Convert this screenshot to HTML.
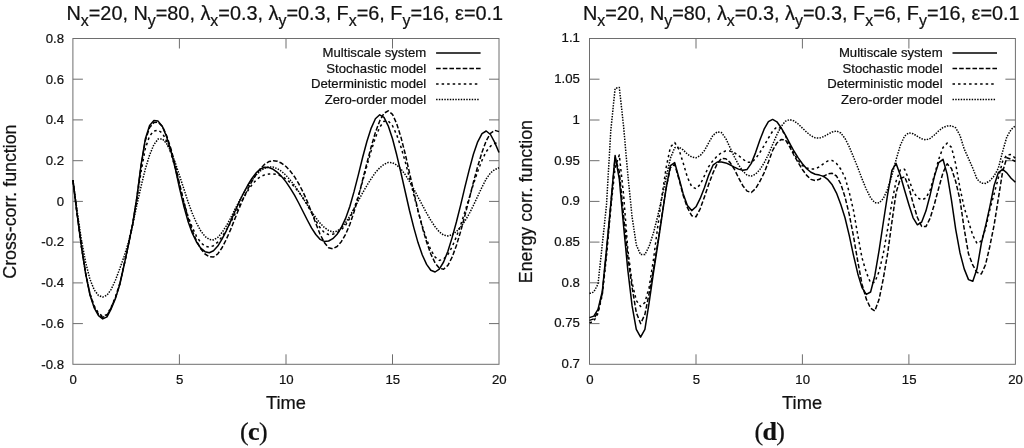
<!DOCTYPE html>
<html><head><meta charset="utf-8"><title>Correlation functions</title>
<style>
html,body{margin:0;padding:0;background:#fff}
svg{display:block}
text{font-family:"Liberation Sans",sans-serif;fill:#111;stroke:#111;stroke-width:0.22px}
.tk text{font-size:13.2px}
.lg text{font-size:13.15px}
.tt{font-size:19.85px}
.sb{font-size:15.9px}
.ax{font-size:18.3px}
.ay{font-size:17.8px}
.cap{font-family:"Liberation Serif","DejaVu Serif",serif;font-size:26px;fill:#111;letter-spacing:-0.6px}
.cap .b{font-weight:bold}
</style></head><body>
<svg width="1024" height="448" viewBox="0 0 1024 448">
<rect width="1024" height="448" fill="#fff"/>
<text class="tt" x="284.8" y="19.75" text-anchor="middle">N<tspan class="sb" dy="5.9">x</tspan><tspan dy="-5.9">=20, N</tspan><tspan class="sb" dy="5.9">y</tspan><tspan dy="-5.9">=80, λ</tspan><tspan class="sb" dy="5.9">x</tspan><tspan dy="-5.9">=0.3, λ</tspan><tspan class="sb" dy="5.9">y</tspan><tspan dy="-5.9">=0.3, F</tspan><tspan class="sb" dy="5.9">x</tspan><tspan dy="-5.9">=6, F</tspan><tspan class="sb" dy="5.9">y</tspan><tspan dy="-5.9">=16, ε=0.1</tspan></text>
<text class="tt" x="801.3" y="19.75" text-anchor="middle">N<tspan class="sb" dy="5.9">x</tspan><tspan dy="-5.9">=20, N</tspan><tspan class="sb" dy="5.9">y</tspan><tspan dy="-5.9">=80, λ</tspan><tspan class="sb" dy="5.9">x</tspan><tspan dy="-5.9">=0.3, λ</tspan><tspan class="sb" dy="5.9">y</tspan><tspan dy="-5.9">=0.3, F</tspan><tspan class="sb" dy="5.9">x</tspan><tspan dy="-5.9">=6, F</tspan><tspan class="sb" dy="5.9">y</tspan><tspan dy="-5.9">=16, ε=0.1</tspan></text>
<g stroke="#6e6e6e" stroke-width="1" fill="none">
<rect x="72.9" y="38.5" width="426.1" height="325.8"/>
<path d="M179.4 364.3v-10.0 M179.4 38.5v10.0"/>
<path d="M286.0 364.3v-10.0 M286.0 38.5v10.0"/>
<path d="M392.5 364.3v-10.0 M392.5 38.5v10.0"/>
<path d="M72.9 323.6h10.0 M499.0 323.6h-10.0"/>
<path d="M72.9 282.9h10.0 M499.0 282.9h-10.0"/>
<path d="M72.9 242.1h10.0 M499.0 242.1h-10.0"/>
<path d="M72.9 201.4h10.0 M499.0 201.4h-10.0"/>
<path d="M72.9 160.7h10.0 M499.0 160.7h-10.0"/>
<path d="M72.9 119.9h10.0 M499.0 119.9h-10.0"/>
<path d="M72.9 79.2h10.0 M499.0 79.2h-10.0"/>
</g>
<g class="tk">
<text x="64.0" y="368.6" text-anchor="end">-0.8</text>
<text x="64.0" y="327.9" text-anchor="end">-0.6</text>
<text x="64.0" y="287.2" text-anchor="end">-0.4</text>
<text x="64.0" y="246.4" text-anchor="end">-0.2</text>
<text x="64.0" y="205.7" text-anchor="end">0</text>
<text x="64.0" y="165.0" text-anchor="end">0.2</text>
<text x="64.0" y="124.2" text-anchor="end">0.4</text>
<text x="64.0" y="83.5" text-anchor="end">0.6</text>
<text x="64.0" y="42.8" text-anchor="end">0.8</text>
<text x="73.2" y="384.2" text-anchor="middle">0</text>
<text x="179.7" y="384.2" text-anchor="middle">5</text>
<text x="286.3" y="384.2" text-anchor="middle">10</text>
<text x="392.8" y="384.2" text-anchor="middle">15</text>
<text x="499.3" y="384.2" text-anchor="middle">20</text>
</g>
<g stroke="#6e6e6e" stroke-width="1" fill="none">
<rect x="589.5" y="38.5" width="425.9" height="325.8"/>
<path d="M696.0 364.3v-10.0 M696.0 38.5v10.0"/>
<path d="M802.4 364.3v-10.0 M802.4 38.5v10.0"/>
<path d="M908.9 364.3v-10.0 M908.9 38.5v10.0"/>
<path d="M589.5 323.6h10.0 M1015.4 323.6h-10.0"/>
<path d="M589.5 282.8h10.0 M1015.4 282.8h-10.0"/>
<path d="M589.5 242.1h10.0 M1015.4 242.1h-10.0"/>
<path d="M589.5 201.4h10.0 M1015.4 201.4h-10.0"/>
<path d="M589.5 160.7h10.0 M1015.4 160.7h-10.0"/>
<path d="M589.5 120.0h10.0 M1015.4 120.0h-10.0"/>
<path d="M589.5 79.2h10.0 M1015.4 79.2h-10.0"/>
</g>
<g class="tk">
<text x="579.9" y="368.1" text-anchor="end">0.7</text>
<text x="579.9" y="327.4" text-anchor="end">0.75</text>
<text x="579.9" y="286.6" text-anchor="end">0.8</text>
<text x="579.9" y="245.9" text-anchor="end">0.85</text>
<text x="579.9" y="205.2" text-anchor="end">0.9</text>
<text x="579.9" y="164.5" text-anchor="end">0.95</text>
<text x="579.9" y="123.8" text-anchor="end">1</text>
<text x="579.9" y="83.0" text-anchor="end">1.05</text>
<text x="579.9" y="42.3" text-anchor="end">1.1</text>
<text x="589.8" y="384.2" text-anchor="middle">0</text>
<text x="696.3" y="384.2" text-anchor="middle">5</text>
<text x="802.7" y="384.2" text-anchor="middle">10</text>
<text x="909.2" y="384.2" text-anchor="middle">15</text>
<text x="1015.6" y="384.2" text-anchor="middle">20</text>
</g>
<g stroke="#000" fill="none" stroke-linejoin="round">
<path d="M72.9 180.2 L77.2 211.6 L81.4 239.9 L85.7 262.7 L89.9 279.1 L94.2 289.8 L98.5 295.5 L102.7 297.1 L107.0 295.2 L111.2 289.4 L115.5 280.0 L119.8 268.6 L124.0 256.8 L128.3 242.9 L132.6 225.1 L136.8 205.3 L141.1 186.2 L145.3 169.1 L149.6 155.0 L153.9 144.6 L158.1 139.0 L162.4 138.9 L166.6 143.5 L170.9 151.7 L175.2 162.6 L179.4 175.2 L183.7 188.4 L187.9 201.4 L192.2 213.1 L196.5 223.0 L200.7 230.8 L205.0 236.4 L209.3 239.5 L213.5 239.9 L217.8 237.4 L222.0 232.5 L226.3 225.9 L230.6 218.1 L234.8 209.7 L239.1 201.4 L243.3 193.6 L247.6 186.5 L251.9 180.3 L256.1 175.0 L260.4 170.9 L264.6 168.2 L268.9 166.9 L273.2 167.1 L277.4 168.7 L281.7 171.5 L286.0 175.3 L290.2 180.0 L294.5 185.4 L298.7 191.5 L303.0 198.0 L307.3 204.8 L311.5 211.5 L315.8 217.7 L320.0 223.1 L324.3 227.4 L328.6 230.5 L332.8 231.9 L337.1 231.1 L341.3 227.9 L345.6 222.6 L349.9 216.0 L354.1 208.4 L358.4 200.6 L362.6 192.9 L366.9 185.5 L371.2 178.6 L375.4 172.6 L379.7 167.8 L384.0 164.3 L388.2 162.5 L392.5 162.7 L396.7 165.0 L401.0 169.1 L405.3 174.7 L409.5 181.5 L413.8 189.0 L418.0 197.0 L422.3 205.0 L426.6 213.0 L430.8 220.4 L435.1 226.8 L439.3 231.9 L443.6 235.1 L447.9 236.0 L452.1 234.7 L456.4 231.7 L460.7 227.1 L464.9 221.1 L469.2 213.8 L473.4 205.4 L477.7 196.3 L482.0 187.1 L486.2 179.0 L490.5 172.9 L494.7 169.6 L499.0 167.8" stroke-width="1.5" stroke-dasharray="1.45 1.29"/>
<path d="M72.9 180.2 L77.2 214.7 L81.4 246.4 L85.7 273.5 L89.9 293.3 L94.2 305.9 L98.5 313.3 L102.7 316.3 L107.0 314.5 L111.2 307.0 L115.5 297.0 L119.8 283.5 L124.0 265.3 L128.3 245.3 L132.6 224.5 L136.8 200.0 L141.1 171.5 L145.3 148.5 L149.6 135.9 L153.9 131.0 L158.1 130.1 L162.4 133.2 L166.6 141.2 L170.9 153.1 L175.2 167.9 L179.4 184.8 L183.7 201.4 L187.9 215.7 L192.2 227.3 L196.5 236.3 L200.7 242.5 L205.0 246.2 L209.3 247.2 L213.5 245.7 L217.8 242.1 L222.0 236.8 L226.3 230.1 L230.6 222.5 L234.8 214.4 L239.1 206.2 L243.3 198.3 L247.6 191.1 L251.9 184.9 L256.1 180.0 L260.4 176.7 L264.6 174.9 L268.9 174.1 L273.2 173.9 L277.4 174.5 L281.7 176.3 L286.0 179.0 L290.2 182.5 L294.5 186.9 L298.7 192.1 L303.0 198.1 L307.3 205.0 L311.5 212.7 L315.8 220.6 L320.0 227.6 L324.3 232.6 L328.6 234.6 L332.8 234.2 L337.1 232.8 L341.3 229.9 L345.6 225.1 L349.9 218.1 L354.1 208.6 L358.4 196.0 L362.6 181.4 L366.9 165.8 L371.2 150.8 L375.4 137.5 L379.7 127.2 L384.0 121.3 L388.2 120.9 L392.5 125.8 L396.7 134.8 L401.0 147.2 L405.3 161.9 L409.5 178.1 L413.8 194.8 L418.0 211.1 L422.3 226.1 L426.6 239.3 L430.8 249.9 L435.1 257.1 L439.3 260.4 L443.6 259.2 L447.9 254.5 L452.1 246.9 L456.4 236.8 L460.7 224.9 L464.9 211.7 L469.2 197.9 L473.4 184.2 L477.7 171.4 L482.0 160.3 L486.2 151.6 L490.5 146.2 L494.7 143.5 L499.0 142.3" stroke-width="1.5" stroke-dasharray="2.5 3.03"/>
<path d="M72.9 180.2 L77.2 214.7 L81.4 246.4 L85.7 273.7 L89.9 293.9 L94.2 306.8 L98.5 314.4 L102.7 317.3 L107.0 315.4 L111.2 307.7 L115.5 297.5 L119.8 283.9 L124.0 265.4 L128.3 245.4 L132.6 224.7 L136.8 198.4 L141.1 165.9 L145.3 140.7 L149.6 127.5 L153.9 122.6 L158.1 122.2 L162.4 126.4 L166.6 135.6 L170.9 148.7 L175.2 164.8 L179.4 183.2 L183.7 201.4 L187.9 217.4 L192.2 230.5 L196.5 240.9 L200.7 248.7 L205.0 254.0 L209.3 256.7 L213.5 257.0 L217.8 253.9 L222.0 247.8 L226.3 239.4 L230.6 229.6 L234.8 219.0 L239.1 208.4 L243.3 198.5 L247.6 189.5 L251.9 181.4 L256.1 174.4 L260.4 168.7 L264.6 164.3 L268.9 161.6 L273.2 160.7 L277.4 161.3 L281.7 163.3 L286.0 166.5 L290.2 171.0 L294.5 176.7 L298.7 183.7 L303.0 191.9 L307.3 201.4 L311.5 212.2 L315.8 223.4 L320.0 234.0 L324.3 242.5 L328.6 247.8 L332.8 248.7 L337.1 246.5 L341.3 241.7 L345.6 234.3 L349.9 224.3 L354.1 211.7 L358.4 196.6 L362.6 180.0 L366.9 163.0 L371.2 146.8 L375.4 132.4 L379.7 120.9 L384.0 113.3 L388.2 110.8 L392.5 114.4 L396.7 123.7 L401.0 137.4 L405.3 154.2 L409.5 172.9 L413.8 192.0 L418.0 210.4 L422.3 227.3 L426.6 242.0 L430.8 254.0 L435.1 262.9 L439.3 268.2 L443.6 269.2 L447.9 265.4 L452.1 257.2 L456.4 245.5 L460.7 231.3 L464.9 215.5 L469.2 198.9 L473.4 182.3 L477.7 166.4 L482.0 152.3 L486.2 140.9 L490.5 133.3 L494.7 130.3 L499.0 131.6" stroke-width="1.5" stroke-dasharray="4.6 2.05"/>
<path d="M72.9 180.2 L77.2 214.7 L81.4 246.4 L85.7 274.1 L89.9 294.7 L94.2 307.8 L98.5 315.7 L102.7 318.9 L107.0 316.9 L111.2 308.8 L115.5 298.4 L119.8 284.5 L124.0 265.6 L128.3 245.3 L132.6 224.4 L136.8 197.5 L141.1 164.5 L145.3 139.0 L149.6 125.6 L153.9 120.6 L158.1 121.1 L162.4 126.5 L166.6 136.6 L170.9 150.7 L175.2 168.2 L179.4 187.5 L183.7 205.7 L187.9 220.9 L192.2 233.0 L196.5 242.0 L200.7 248.2 L205.0 251.7 L209.3 252.7 L213.5 250.8 L217.8 246.1 L222.0 239.2 L226.3 230.8 L230.6 221.4 L234.8 211.7 L239.1 202.3 L243.3 193.5 L247.6 185.5 L251.9 178.5 L256.1 172.9 L260.4 169.0 L264.6 167.3 L268.9 167.6 L273.2 169.3 L277.4 172.4 L281.7 176.6 L286.0 181.9 L290.2 188.1 L294.5 195.2 L298.7 203.0 L303.0 211.5 L307.3 220.0 L311.5 227.9 L315.8 234.5 L320.0 239.3 L324.3 241.4 L328.6 241.0 L332.8 238.7 L337.1 234.3 L341.3 227.6 L345.6 218.4 L349.9 206.3 L354.1 191.4 L358.4 174.6 L362.6 157.5 L366.9 141.5 L371.2 128.1 L375.4 118.7 L379.7 114.8 L384.0 117.4 L388.2 125.8 L392.5 138.7 L396.7 154.8 L401.0 173.0 L405.3 192.0 L409.5 210.5 L413.8 227.6 L418.0 242.6 L422.3 255.0 L426.6 264.4 L430.8 270.3 L435.1 272.0 L439.3 269.1 L443.6 262.0 L447.9 251.2 L452.1 237.6 L456.4 222.0 L460.7 204.9 L464.9 187.2 L469.2 169.9 L473.4 154.3 L477.7 141.8 L482.0 133.6 L486.2 131.0 L490.5 134.5 L494.7 142.4 L499.0 152.5" stroke-width="1.5"/>
</g>
<g stroke="#000" fill="none" stroke-linejoin="round">
<path d="M589.5 293.5 L593.8 292.0 L598.0 284.1 L602.3 244.4 L606.5 204.9 L610.8 130.5 L615.1 88.4 L619.3 87.4 L623.6 126.5 L627.8 174.4 L632.1 217.0 L636.3 244.9 L640.6 254.6 L644.9 254.6 L649.1 246.4 L653.4 233.1 L657.6 216.6 L661.9 197.7 L666.2 177.2 L670.4 158.2 L674.7 147.7 L678.9 147.2 L683.2 149.9 L687.4 154.2 L691.7 157.0 L696.0 157.8 L700.2 155.6 L704.5 150.5 L708.7 142.8 L713.0 135.3 L717.3 131.9 L721.5 132.6 L725.8 138.5 L730.0 147.5 L734.3 156.6 L738.5 164.8 L742.8 171.1 L747.1 175.2 L751.3 176.1 L755.6 174.1 L759.8 169.7 L764.1 163.0 L768.4 154.5 L772.6 144.6 L776.9 134.7 L781.1 126.5 L785.4 121.3 L789.6 119.6 L793.9 120.9 L798.2 124.0 L802.4 128.1 L806.7 132.2 L810.9 135.7 L815.2 137.8 L819.5 138.1 L823.7 136.6 L828.0 134.2 L832.2 132.0 L836.5 131.0 L840.8 133.0 L845.0 138.4 L849.3 146.9 L853.5 157.0 L857.8 167.6 L862.0 178.8 L866.3 189.3 L870.6 197.8 L874.8 202.7 L879.1 202.9 L883.3 198.6 L887.6 189.2 L891.9 175.3 L896.1 159.6 L900.4 145.2 L904.6 136.0 L908.9 132.8 L913.1 133.7 L917.4 136.3 L921.7 138.8 L925.9 139.9 L930.2 138.4 L934.4 135.0 L938.7 130.9 L943.0 127.5 L947.2 126.0 L951.5 125.8 L955.7 127.8 L960.0 135.5 L964.2 149.0 L968.5 158.5 L972.8 168.2 L977.0 179.1 L981.3 183.1 L985.5 183.4 L989.8 180.8 L994.1 176.0 L998.3 168.3 L1002.6 151.6 L1006.8 136.9 L1011.1 129.5 L1015.4 125.8" stroke-width="1.5" stroke-dasharray="1.45 1.29"/>
<path d="M589.5 322.9 L593.8 321.3 L598.0 313.3 L602.3 294.9 L606.5 256.5 L610.8 208.3 L615.1 167.7 L619.3 154.9 L623.6 194.9 L627.8 249.4 L632.1 282.9 L636.3 300.5 L640.6 306.5 L644.9 302.5 L649.1 287.4 L653.4 260.1 L657.6 227.7 L661.9 196.3 L666.2 167.3 L670.4 147.1 L674.7 142.5 L678.9 149.3 L683.2 163.0 L687.4 177.3 L691.7 186.6 L696.0 188.7 L700.2 184.5 L704.5 175.7 L708.7 166.6 L713.0 160.5 L717.3 156.0 L721.5 152.6 L725.8 150.9 L730.0 151.1 L734.3 152.7 L738.5 155.5 L742.8 159.1 L747.1 162.1 L751.3 162.4 L755.6 158.7 L759.8 152.6 L764.1 145.6 L768.4 138.2 L772.6 131.2 L776.9 126.9 L781.1 128.5 L785.4 135.8 L789.6 144.8 L793.9 153.4 L798.2 160.6 L802.4 165.5 L806.7 168.1 L810.9 169.0 L815.2 168.9 L819.5 166.7 L823.7 163.5 L828.0 160.9 L832.2 160.5 L836.5 163.5 L840.8 169.2 L845.0 177.5 L849.3 192.5 L853.5 210.5 L857.8 235.2 L862.0 257.8 L866.3 272.4 L870.6 282.9 L874.8 282.2 L879.1 271.4 L883.3 253.6 L887.6 229.2 L891.9 202.3 L896.1 181.2 L900.4 169.8 L904.6 169.2 L908.9 179.6 L913.1 191.2 L917.4 197.7 L921.7 199.9 L925.9 198.1 L930.2 189.8 L934.4 175.4 L938.7 159.4 L943.0 147.5 L947.2 143.1 L951.5 147.4 L955.7 164.0 L960.0 188.2 L964.2 207.6 L968.5 221.6 L972.8 235.2 L977.0 243.5 L981.3 241.0 L985.5 228.8 L989.8 209.8 L994.1 194.0 L998.3 178.0 L1002.6 161.3 L1006.8 154.9 L1011.1 154.5 L1015.4 158.2" stroke-width="1.5" stroke-dasharray="2.5 3.03"/>
<path d="M589.5 320.4 L593.8 318.9 L598.0 311.5 L602.3 293.3 L606.5 251.8 L610.8 205.1 L615.1 157.7 L619.3 171.5 L623.6 215.7 L627.8 256.3 L632.1 287.4 L636.3 312.6 L640.6 323.6 L644.9 314.4 L649.1 293.4 L653.4 269.4 L657.6 244.2 L661.9 215.6 L666.2 187.4 L670.4 167.7 L674.7 164.3 L678.9 179.0 L683.2 195.4 L687.4 207.7 L691.7 215.7 L696.0 216.8 L700.2 208.8 L704.5 196.7 L708.7 184.3 L713.0 172.9 L717.3 163.5 L721.5 158.4 L725.8 158.7 L730.0 162.4 L734.3 169.1 L738.5 177.7 L742.8 185.7 L747.1 191.1 L751.3 192.5 L755.6 188.6 L759.8 181.5 L764.1 172.9 L768.4 162.0 L772.6 150.5 L776.9 143.0 L781.1 139.5 L785.4 139.8 L789.6 146.7 L793.9 155.0 L798.2 162.6 L802.4 169.5 L806.7 175.4 L810.9 179.4 L815.2 180.6 L819.5 179.3 L823.7 176.2 L828.0 173.9 L832.2 173.3 L836.5 176.0 L840.8 184.0 L845.0 197.0 L849.3 214.6 L853.5 236.3 L857.8 261.5 L862.0 284.2 L866.3 299.1 L870.6 308.2 L874.8 311.0 L879.1 299.3 L883.3 278.6 L887.6 253.7 L891.9 222.1 L896.1 192.6 L900.4 178.5 L904.6 176.7 L908.9 187.5 L913.1 203.3 L917.4 217.5 L921.7 226.5 L925.9 226.6 L930.2 218.1 L934.4 204.2 L938.7 188.1 L943.0 172.6 L947.2 163.8 L951.5 168.5 L955.7 181.5 L960.0 199.8 L964.2 229.0 L968.5 253.8 L972.8 265.2 L977.0 272.4 L981.3 274.0 L985.5 264.8 L989.8 246.5 L994.1 225.2 L998.3 198.8 L1002.6 171.8 L1006.8 157.7 L1011.1 159.3 L1015.4 161.5" stroke-width="1.5" stroke-dasharray="4.6 2.05"/>
<path d="M589.5 317.6 L593.8 316.1 L598.0 309.4 L602.3 291.5 L606.5 249.2 L610.8 203.9 L615.1 155.5 L619.3 179.0 L623.6 226.1 L627.8 269.9 L632.1 305.9 L636.3 329.3 L640.6 337.1 L644.9 329.3 L649.1 302.8 L653.4 273.1 L657.6 245.8 L661.9 216.9 L666.2 188.0 L670.4 165.6 L674.7 162.6 L678.9 177.8 L683.2 193.9 L687.4 205.5 L691.7 210.6 L696.0 206.8 L700.2 198.4 L704.5 187.4 L708.7 175.1 L713.0 165.2 L717.3 162.0 L721.5 162.0 L725.8 162.9 L730.0 164.8 L734.3 167.1 L738.5 169.1 L742.8 170.3 L747.1 169.4 L751.3 163.4 L755.6 152.6 L759.8 140.2 L764.1 129.2 L768.4 121.6 L772.6 119.4 L776.9 121.8 L781.1 127.7 L785.4 135.2 L789.6 143.2 L793.9 151.0 L798.2 157.9 L802.4 163.8 L806.7 168.7 L810.9 172.3 L815.2 174.3 L819.5 175.1 L823.7 176.4 L828.0 179.7 L832.2 184.8 L836.5 193.1 L840.8 204.6 L845.0 217.8 L849.3 235.6 L853.5 255.3 L857.8 273.7 L862.0 287.6 L866.3 294.4 L870.6 292.0 L874.8 275.7 L879.1 250.4 L883.3 222.5 L887.6 194.6 L891.9 170.4 L896.1 163.4 L900.4 175.5 L904.6 190.2 L908.9 204.7 L913.1 217.8 L917.4 224.8 L921.7 222.0 L925.9 211.1 L930.2 194.7 L934.4 176.4 L938.7 162.6 L943.0 159.3 L947.2 174.4 L951.5 200.3 L955.7 229.3 L960.0 252.9 L964.2 268.9 L968.5 279.6 L972.8 281.2 L977.0 268.8 L981.3 243.5 L985.5 226.3 L989.8 206.8 L994.1 185.5 L998.3 172.7 L1002.6 169.3 L1006.8 172.9 L1011.1 178.2 L1015.4 182.3" stroke-width="1.5"/>
</g>
<g class="lg">
<text x="426.3" y="57.3" text-anchor="end">Multiscale system</text>
<text x="426.3" y="72.8" text-anchor="end">Stochastic model</text>
<text x="426.3" y="88.2" text-anchor="end">Deterministic model</text>
<text x="426.3" y="103.6" text-anchor="end">Zero-order model</text>
</g>
<g stroke="#000" fill="none">
<path d="M436.1 53.0H480.6" stroke-width="1.5"/>
<path d="M436.1 68.5H480.6" stroke-width="1.5" stroke-dasharray="4.6 2.05"/>
<path d="M436.1 84.0H477.4" stroke-width="1.5" stroke-dasharray="2.5 3.03"/>
<path d="M436.1 99.5H479.4" stroke-width="1.5" stroke-dasharray="1.45 1.29"/>
</g>
<g class="lg">
<text x="942.6" y="57.3" text-anchor="end">Multiscale system</text>
<text x="942.6" y="72.8" text-anchor="end">Stochastic model</text>
<text x="942.6" y="88.2" text-anchor="end">Deterministic model</text>
<text x="942.6" y="103.6" text-anchor="end">Zero-order model</text>
</g>
<g stroke="#000" fill="none">
<path d="M952.5 53.0H997.0" stroke-width="1.5"/>
<path d="M952.5 68.5H997.0" stroke-width="1.5" stroke-dasharray="4.6 2.05"/>
<path d="M952.5 84.0H993.8" stroke-width="1.5" stroke-dasharray="2.5 3.03"/>
<path d="M952.5 99.5H995.8" stroke-width="1.5" stroke-dasharray="1.45 1.29"/>
</g>
<text class="ax" x="285.9" y="408.6" text-anchor="middle">Time</text>
<text class="ax" x="802.1" y="408.6" text-anchor="middle">Time</text>
<text class="ay" transform="translate(15.5 201.6) rotate(-90)" text-anchor="middle">Cross-corr. function</text>
<text class="ay" transform="translate(532.1 201.6) rotate(-90)" text-anchor="middle">Energy corr. function</text>
<text class="cap" x="253.6" y="439.8" text-anchor="middle">(<tspan class="b">c</tspan>)</text>
<text class="cap" x="769.4" y="439.8" text-anchor="middle">(<tspan class="b">d</tspan>)</text>
</svg></body></html>
